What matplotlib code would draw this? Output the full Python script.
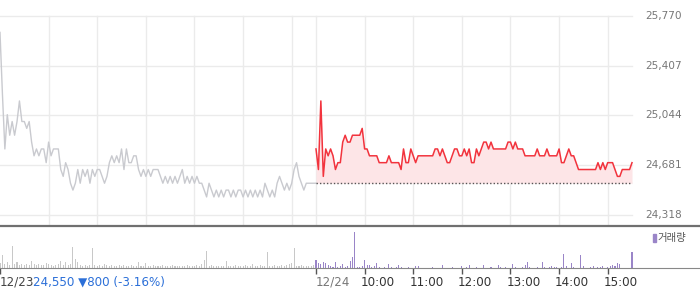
import numpy as np
import matplotlib
matplotlib.use('Agg')
import matplotlib.pyplot as plt
import matplotlib.transforms as mtransforms
from matplotlib.patches import Rectangle

# 3-minute samples, 12/23 (previous day) and 12/24 (today), 09:00 - 15:30
prev_price = [
    25650, 25200, 24800, 25050, 24900, 25000, 24900, 25000, 25150, 25000,
    25000, 24950, 25000, 24850, 24750, 24800, 24750, 24800, 24800, 24700,
    24850, 24750, 24800, 24800, 24800, 24650, 24600, 24700, 24650, 24550,
    24500, 24550, 24650, 24550, 24650, 24600, 24650, 24550, 24650, 24600,
    24650, 24650, 24600, 24550, 24600, 24700, 24750, 24700, 24750, 24700,
    24800, 24650, 24800, 24700, 24700, 24750, 24750, 24650, 24600, 24650,
    24600, 24650, 24600, 24650, 24650, 24650, 24600, 24550, 24600, 24550,
    24600, 24550, 24600, 24550, 24600, 24650, 24550, 24600, 24550, 24600,
    24550, 24600, 24550, 24550, 24500, 24450, 24550, 24500, 24450, 24500,
    24450, 24500, 24450, 24500, 24500, 24450, 24500, 24450, 24500, 24500,
    24450, 24500, 24450, 24500, 24450, 24500, 24450, 24500, 24450, 24550,
    24500, 24450, 24500, 24450, 24550, 24600, 24550, 24500, 24550, 24500,
    24550, 24650, 24700, 24600, 24550, 24500, 24550, 24550, 24550, 24550,
    24550,
]
today_price = [
    24800, 24650, 25150, 24600, 24800, 24750, 24800, 24750, 24650, 24700,
    24700, 24850, 24900, 24850, 24850, 24900, 24900, 24900, 24900, 24950,
    24800, 24800, 24750, 24750, 24750, 24750, 24700, 24700, 24700, 24700,
    24750, 24700, 24700, 24700, 24700, 24650, 24800, 24700, 24700, 24800,
    24750, 24700, 24750, 24750, 24750, 24750, 24750, 24750, 24750, 24800,
    24800, 24750, 24800, 24750, 24700, 24700, 24750, 24800, 24800, 24750,
    24750, 24800, 24750, 24800, 24700, 24700, 24800, 24750, 24800, 24850,
    24850, 24800, 24850, 24800, 24800, 24800, 24800, 24800, 24800, 24850,
    24850, 24800, 24850, 24800, 24800, 24800, 24750, 24750, 24750, 24750,
    24750, 24800, 24750, 24750, 24750, 24800, 24750, 24750, 24750, 24750,
    24800, 24700, 24700, 24750, 24800, 24750, 24750, 24700, 24650, 24650,
    24650, 24650, 24650, 24650, 24650, 24650, 24700, 24650, 24700, 24650,
    24700, 24700, 24700, 24650, 24600, 24600, 24650, 24650, 24650, 24650,
    24700,
]
prev_vol = [
    5, 13, 4, 6, 3, 22, 4, 6, 3, 4, 3, 4, 3, 7, 4, 3, 4, 3, 3, 5,
    4, 3, 2, 3, 4, 7, 3, 6, 3, 4, 21, 9, 6, 3, 2, 3, 2, 3, 20, 3,
    2, 3, 2, 4, 3, 2, 3, 2, 2, 3, 2, 3, 2, 2, 3, 2, 2, 6, 2, 2,
    5, 2, 2, 3, 2, 2, 2, 3, 2, 2, 2, 3, 2, 2, 2, 2, 2, 3, 2, 2,
    2, 3, 2, 4, 8, 17, 2, 3, 2, 2, 2, 2, 2, 7, 2, 2, 2, 3, 2, 2,
    2, 3, 2, 2, 4, 2, 2, 3, 2, 2, 16, 2, 2, 3, 2, 2, 3, 2, 3, 4,
    5, 20, 2, 2, 3, 2, 2, 2, 2, 3, 2,
]
today_vol = [
    8, 5, 4, 6, 5, 3, 2, 1, 6, 1, 2, 4, 1, 2, 7, 11, 36, 1, 1, 2,
    8, 3, 3, 1, 2, 5, 1, 0, 1, 0, 4, 1, 0, 1, 3, 1, 0, 0, 1, 0,
    0, 2, 2, 0, 0, 0, 0, 0, 1, 0, 0, 0, 3, 0, 0, 0, 1, 0, 0, 0,
    2, 0, 1, 3, 0, 0, 1, 0, 0, 3, 0, 0, 1, 0, 0, 3, 1, 0, 1, 0,
    0, 4, 1, 0, 0, 1, 3, 6, 1, 0, 0, 1, 0, 6, 1, 0, 1, 2, 1, 1,
    0, 1, 14, 2, 0, 5, 1, 0, 0, 13, 2, 0, 0, 1, 2, 0, 1, 1, 2, 0,
    1, 2, 3, 2, 5, 4, 0, 0, 0, 0, 16,
]
prev_close = 24550
y_ticks = [24318, 24681, 25044, 25407, 25770]
time_labels = ['10:00', '11:00', '12:00', '13:00', '14:00', '15:00']

W, H = 700, 289
fig = plt.figure(figsize=(W / 100, H / 100), dpi=100)

# minutes from 12/23 09:00; 12/24 09:00 = 390
x_prev = np.arange(len(prev_price)) * 3
x_today = 390 + np.arange(len(today_price)) * 3
x_end = 780
x_max = x_end * W / 632.0

ax = fig.add_axes([0, 1 - 226 / H, 1, 226 / H])
ax.set_xlim(0, x_max)
ax.set_ylim(24318 - 11 * 7.26, 25770 + 16 * 7.26)

grid_c = '#ebebeb'
for v in y_ticks:
    ax.plot([0, x_end], [v, v], color=grid_c, lw=1, zorder=1)
hours = [60 * h for h in range(1, 7)] + [390] + [390 + 60 * h for h in range(1, 7)]
for hx in hours:
    ax.plot([hx, hx], [ax.get_ylim()[0], 25770], color=grid_c, lw=1, zorder=1)

ax.plot(x_prev, prev_price, color='#c9cacf', lw=1.0, zorder=3)
ax.fill_between(x_today, today_price, prev_close, color='#fde5e7', lw=0, zorder=2)
ax.plot([390, x_end], [prev_close, prev_close], color='#555555', lw=1,
        ls=(0, (1, 1.5)), zorder=3)
ax.plot(x_today, today_price, color='#f2333d', lw=1.1, zorder=4)

ylab_tr = mtransforms.blended_transform_factory(ax.transAxes, ax.transData)
for v in y_ticks:
    ax.text(645 / W, v, f'{v:,}', transform=ylab_tr, ha='left', va='center',
            fontsize=7.6, color='#777777')

for s in ['top', 'left', 'right']:
    ax.spines[s].set_visible(False)
ax.spines['bottom'].set_color('#707070')
ax.spines['bottom'].set_linewidth(1.6)
ax.set_xticks([])
ax.set_yticks([])

# volume panel
axv = fig.add_axes([0, 1 - 268 / H, 1, 42 / H])
axv.set_xlim(0, x_max)
axv.set_ylim(0, 42)
axv.bar(x_prev, prev_vol, width=1.3, color='#c8c8c8', lw=0)
axv.bar(x_today, today_vol, width=1.3, color='#9a85c8', lw=0)
for s in ['top', 'left', 'right']:
    axv.spines[s].set_visible(False)
axv.spines['bottom'].set_color('#888888')
axv.set_yticks([])
axv.set_xticks([0, 390] + [390 + 60 * h for h in range(1, 7)])
axv.set_xticklabels([])
axv.tick_params(axis='x', length=4, width=1, color='#555555', direction='out')
axv.patch.set_alpha(0)

lab_tr = mtransforms.blended_transform_factory(axv.transData, fig.transFigure)
ty = 1 - 282 / H
off = 4 * 780 / 632.0
axv.text(390, ty, '12/24', transform=lab_tr, ha='left', va='center',
         fontsize=8.6, color='#777777')
for i, lab in enumerate(time_labels):
    axv.text(390 + 60 * (i + 1) - off, ty, lab, transform=lab_tr, ha='left',
             va='center', fontsize=8.6, color='#333333')

fig.text(0, ty, '12/23', ha='left', va='center', fontsize=8.6, color='#444444')
fig.text(33 / W, ty, '24,550 ▼800 (-3.16%)', ha='left', va='center',
         fontsize=8.6, color='#2b6fd8')

# legend
fig.patches.append(Rectangle((653 / W, 1 - 242 / H), 2.5 / W, 8 / H,
                             transform=fig.transFigure, color='#9a85c8'))
fig.text(657 / W, 1 - 238 / H, '거래량', ha='left', va='center', fontsize=7.5,
         color='#555555', family=['Noto Sans CJK KR', 'DejaVu Sans'])

fig.savefig('out.png', dpi=100)
